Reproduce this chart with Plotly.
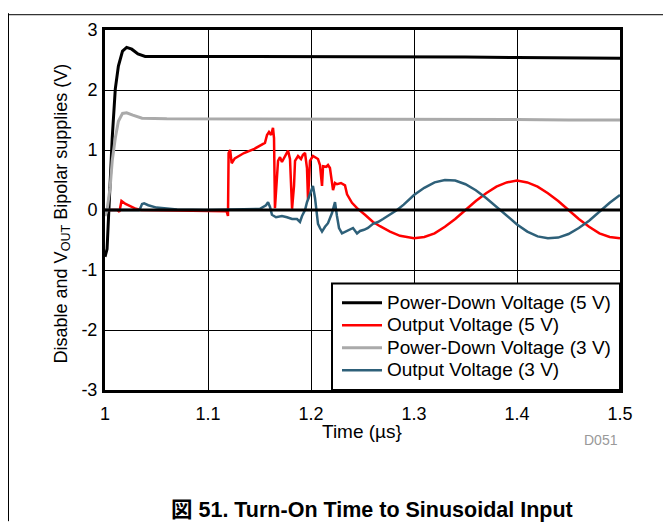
import plotly.graph_objects as go

# ---------------- data ----------------
t_pd5 = [1.000, 1.002, 1.003, 1.005, 1.007, 1.010, 1.013, 1.017, 1.021, 1.026, 1.032, 1.039,
         1.06, 1.10, 1.15, 1.20, 1.25, 1.30, 1.35, 1.40, 1.45, 1.50]
v_pd5 = [-0.78, -0.65, -0.28, 0.54, 1.20, 2.02, 2.40, 2.65, 2.71, 2.68, 2.60, 2.56,
         2.56, 2.56, 2.56, 2.56, 2.55, 2.55, 2.55, 2.54, 2.53, 2.53]

t_pd3 = [1.000, 1.002, 1.005, 1.007, 1.010, 1.013, 1.017, 1.021, 1.027, 1.036,
         1.06, 1.10, 1.15, 1.20, 1.25, 1.30, 1.35, 1.40, 1.45, 1.50]
v_pd3 = [-0.10, 0.00, 0.38, 0.82, 1.20, 1.48, 1.61, 1.62, 1.58, 1.53,
         1.52, 1.52, 1.52, 1.52, 1.52, 1.51, 1.51, 1.51, 1.50, 1.50]

t_out5 = [1.000, 1.012, 1.014, 1.015, 1.016, 1.020, 1.025, 1.030, 1.035, 1.10, 1.118,
          1.1194, 1.1200, 1.1215, 1.1230, 1.1260, 1.1350, 1.1450, 1.1553, 1.1573, 1.1592,
          1.1612, 1.1631, 1.1641, 1.1650, 1.1680, 1.1699, 1.1718, 1.1748, 1.1777, 1.1796,
          1.1816, 1.1835, 1.1845, 1.1874, 1.1903, 1.1922, 1.1942, 1.1961, 1.1971, 1.1981,
          1.1990, 1.2019, 1.2039, 1.2068, 1.2087, 1.2107, 1.2117, 1.2146, 1.2165, 1.2184,
          1.2214, 1.2233, 1.2252, 1.2291, 1.2330, 1.2350, 1.2398, 1.2447, 1.2524, 1.2602,
          1.2670, 1.2767, 1.2864, 1.2961, 1.30, 1.31, 1.32, 1.33, 1.34, 1.35, 1.36, 1.37,
          1.38, 1.39, 1.40, 1.41, 1.42, 1.43, 1.44, 1.45, 1.46, 1.47, 1.48, 1.49, 1.50]
v_out5 = [0.00, 0.00, -0.03, 0.10, 0.15, 0.10, 0.06, 0.02, 0.00, -0.01, -0.02,
          -0.10, 0.95, 1.00, 0.78, 0.86, 0.95, 1.02, 1.12, 1.25, 1.30,
          1.25, 1.37, 1.20, 0.03, 0.82, 0.88, 0.80, 0.90, 0.99, 0.85,
          0.02, 0.40, 0.82, 0.90, 0.85, 0.92, 0.95, 0.70, 0.18, 0.50,
          0.82, 0.90, 0.88, 0.85, 0.75, 0.40, 0.73, 0.72, 0.75, 0.70,
          0.33, 0.45, 0.43, 0.45, 0.41, 0.26, 0.12, 0.03, -0.08, -0.20,
          -0.27, -0.36, -0.43, -0.46, -0.47, -0.45, -0.39, -0.28, -0.15, 0.00, 0.15, 0.28,
          0.39, 0.46, 0.49, 0.46, 0.39, 0.28, 0.15, 0.00, -0.15, -0.28, -0.39, -0.45, -0.47]

t_out3 = [1.000, 1.033, 1.034, 1.036, 1.038, 1.042, 1.050, 1.060, 1.070, 1.10, 1.1505,
          1.1563, 1.1583, 1.1602, 1.1621, 1.1660, 1.1718, 1.1767, 1.1816, 1.1864, 1.1893,
          1.1913, 1.1942, 1.1961, 1.1990, 1.2019, 1.2039, 1.2058, 1.2068, 1.2087, 1.2107,
          1.2136, 1.2165, 1.2204, 1.2233, 1.2252, 1.2272, 1.2301, 1.2340, 1.2379, 1.2408,
          1.2447, 1.2476, 1.2515, 1.2553, 1.2602, 1.2650, 1.2699, 1.2748, 1.2786, 1.2835,
          1.29, 1.30, 1.31, 1.32, 1.33, 1.34, 1.35, 1.36, 1.37, 1.38, 1.39, 1.40, 1.41,
          1.42, 1.43, 1.44, 1.45, 1.46, 1.47, 1.48, 1.49, 1.50]
v_out3 = [0.00, 0.00, 0.02, 0.10, 0.11, 0.08, 0.04, 0.02, 0.01, 0.00, 0.02,
          0.08, 0.13, 0.05, -0.08, -0.12, -0.10, -0.12, -0.15, -0.15, -0.20,
          -0.10, 0.00, 0.13, 0.28, 0.40, 0.20, -0.05, -0.23, -0.30, -0.36,
          -0.28, -0.22, -0.05, 0.13, -0.10, -0.30, -0.39, -0.36, -0.33, -0.30,
          -0.39, -0.35, -0.33, -0.30, -0.23, -0.20, -0.15, -0.10, -0.06, 0.00,
          0.09, 0.25, 0.37, 0.46, 0.50, 0.49, 0.43, 0.33, 0.20, 0.05, -0.10, -0.24, -0.36,
          -0.44, -0.47, -0.46, -0.40, -0.30, -0.18, -0.03, 0.12, 0.25]

series_names = ["Power-Down Voltage (5 V)", "Output Voltage (5 V)",
                "Power-Down Voltage (3 V)", "Output Voltage (3 V)"]

x_ticks = [1, 1.1, 1.2, 1.3, 1.4, 1.5]
x_tick_labels = ["1", "1.1", "1.2", "1.3", "1.4", "1.5"]
y_ticks = [-3, -2, -1, 0, 1, 2, 3]
y_tick_labels = ["-3", "-2", "-1", "0", "1", "2", "3"]

# ---------------- layout geometry (page pixels; the page body has an 8 px margin) ----------------
OFF = 8
W, H = 671 - OFF, 523 - OFF
L, R, T, B = 105 - OFF, 620 - OFF, 25 - OFF, 390 - OFF
pw, ph = R - L, B - T


def px(x):
    """page x -> paper fraction"""
    return (x - OFF - L) / pw


def py(y):
    """page y -> paper fraction"""
    return (B - (y - OFF)) / ph


FONT = "Arial, 'Liberation Sans', 'Noto Sans CJK JP', sans-serif"

fig = go.Figure()
styles = [dict(color="#000000", width=3), dict(color="#ff0000", width=2.5),
          dict(color="#aaaaaa", width=3), dict(color="#2e6079", width=2.5)]
for name, tx, vy, st in zip(series_names, [t_pd5, t_out5, t_pd3, t_out3],
                            [v_pd5, v_out5, v_pd3, v_out3], styles):
    fig.add_trace(go.Scatter(x=tx, y=vy, mode="lines",
                             name='<span style="font-size:19px">' + name + '</span>',
                             line=st))

fig.update_layout(
    width=W, height=H,
    margin=dict(l=L, r=W - R, t=T, b=H - B),
    paper_bgcolor="white", plot_bgcolor="white",
    font=dict(family=FONT, color="black", size=18),
    showlegend=True,
    legend=dict(x=px(337), xanchor="left", y=py(285), yanchor="top",
                bgcolor="rgba(0,0,0,0)", borderwidth=0,
                font=dict(family=FONT, size=15, color="black"),
                itemwidth=40, tracegroupgap=0),
    xaxis=dict(range=[1, 1.5], tickvals=x_ticks, ticktext=x_tick_labels,
               showgrid=True, gridcolor="black", gridwidth=1,
               showline=True, linecolor="black", linewidth=3, mirror=True,
               ticks="outside", ticklen=5, tickcolor="rgba(0,0,0,0)",
               zeroline=False, tickfont=dict(size=18)),
    yaxis=dict(range=[-3, 3], tickvals=y_ticks, ticktext=y_tick_labels,
               showgrid=True, gridcolor="black", gridwidth=1,
               showline=True, linecolor="black", linewidth=3, mirror=True,
               ticks="outside", ticklen=1, tickcolor="rgba(0,0,0,0)",
               zeroline=False, tickfont=dict(size=18)),
)

shapes = [
    # zero reference line on top of the traces
    dict(type="line", xref="x domain", yref="y", x0=0, x1=1, y0=0, y1=0,
         line=dict(color="black", width=3), layer="above"),
    # legend box
    dict(type="rect", xref="paper", yref="paper", x0=px(332), x1=1, y0=0, y1=py(282),
         fillcolor="white", line=dict(color="black", width=2), layer="above"),
    # outer frame lines
    dict(type="line", xref="paper", yref="paper", x0=px(8.5), x1=px(8.5), y0=py(OFF), y1=py(523),
         line=dict(color="black", width=1)),
    dict(type="line", xref="paper", yref="paper", x0=px(8), x1=px(671), y0=py(9.5), y1=py(9.5),
         line=dict(color="black", width=1)),
]
fig.update_layout(shapes=shapes)

annotations = [
    dict(text="Time (µs}", x=px(362), y=py(432), xref="paper", yref="paper",
         showarrow=False, font=dict(size=19, family=FONT), xanchor="center", yanchor="middle"),
    dict(text="Disable and V<sub>OUT</sub> Bipolar supplies (V)", x=px(62), y=py(211),
         xref="paper", yref="paper", showarrow=False, textangle=-90,
         font=dict(size=18, family=FONT), xanchor="center", yanchor="middle"),
    dict(text="D051", x=px(601), y=py(441), xref="paper", yref="paper", showarrow=False,
         font=dict(size=14, family=FONT, color="#999999"), xanchor="center", yanchor="middle"),
    dict(text="<b>図 51. Turn-On Time to Sinusoidal Input</b>", x=px(372), y=py(512),
         xref="paper", yref="paper", showarrow=False,
         font=dict(size=21.5, family=FONT), xanchor="center", yanchor="middle"),
]
fig.update_layout(annotations=annotations)

fig.write_html("out.html")
